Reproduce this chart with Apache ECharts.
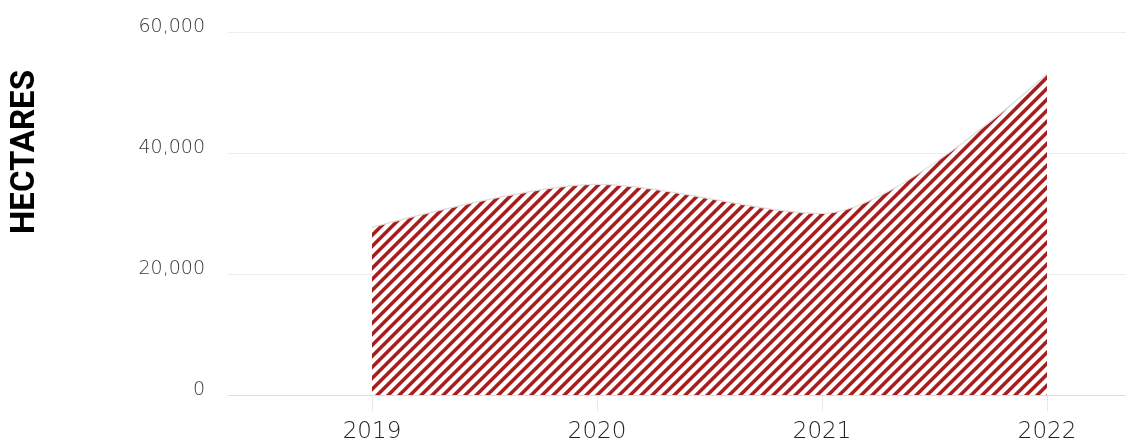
<!DOCTYPE html>
<html>
<head>
<meta charset="utf-8">
<script src="https://cdn.jsdelivr.net/npm/echarts@6/dist/echarts.min.js"></script>
<style>
  html, body { margin: 0; padding: 0; background: #fff; }
  #chart { width: 1126px; height: 444px; }
</style>
</head>
<body>
<div id="chart"></div>
<script>
const years = [2019, 2020, 2021, 2022]
const hectares = [27700, 34800, 30000, 53100]

// "/" stripes, drawn pixel by pixel so the tile wraps cleanly
function stripes(period, width, rgb) {
    const c = document.createElement('canvas')
    c.width = period
    c.height = period
    const ctx = c.getContext('2d')
    const img = ctx.createImageData(period, period)
    const n = 4
    for (let y = 0; y < period; y++) {
        for (let x = 0; x < period; x++) {
            let hit = 0
            for (let sy = 0; sy < n; sy++) {
                for (let sx = 0; sx < n; sx++) {
                    const d = (x + (sx + 0.5) / n + y + (sy + 0.5) / n) % period
                    if (d < width) hit++
                }
            }
            const a = hit / (n * n)
            const i = (y * period + x) * 4
            img.data[i] = Math.round(255 + (rgb[0] - 255) * a)
            img.data[i + 1] = Math.round(255 + (rgb[1] - 255) * a)
            img.data[i + 2] = Math.round(255 + (rgb[2] - 255) * a)
            img.data[i + 3] = 255
        }
    }
    ctx.putImageData(img, 0, 0)
    return c
}

const chart = echarts.init(document.getElementById('chart'))

chart.setOption({
    animation: false,
    grid: { left: 228, right: 0, top: 32, bottom: 46 },
    graphic: [{
        type: 'text',
        x: 26,
        y: 152,
        rotation: Math.PI / 2,
        style: {
            text: 'HECTARES',
            fill: '#000',
            font: 'bold 33px Roboto',
            align: 'center',
            verticalAlign: 'middle'
        }
    }],
    xAxis: {
        type: 'value',
        min: 2018.36,
        max: 2022.351,
        splitLine: { show: false },
        axisLine: { show: true, lineStyle: { color: '#ddd' } },
        axisTick: { show: true, customValues: years, length: 16, lineStyle: { color: '#e8e8e8' } },
        axisLabel: {
            customValues: years,
            color: '#222',
            fontFamily: 'DejaVu Sans',
            fontWeight: 200,
            fontSize: 23,
            margin: 26,
            formatter: v => String(v)
        }
    },
    yAxis: {
        type: 'value',
        min: 0,
        max: 60000,
        interval: 20000,
        axisLine: { show: false },
        axisTick: { show: false },
        splitLine: { lineStyle: { color: '#ececec' } },
        axisLabel: {
            color: '#3a3a3a',
            fontFamily: 'DejaVu Sans',
            fontWeight: 200,
            fontSize: 19,
            margin: 23,
            verticalAlign: 'bottom',
            lineHeight: 9,
            formatter: v => v.toLocaleString('en-US')
        }
    },
    series: [{
        type: 'line',
        data: years.map((y, i) => [y, hectares[i]]),
        smooth: 0.3,
        symbol: 'none',
        lineStyle: { color: '#ddd', width: 1.2 },
        areaStyle: {
            opacity: 1,
            color: { image: stripes(11, 4.8, [168, 30, 30]), repeat: 'repeat' }
        }
    }]
})
</script>
</body>
</html>
